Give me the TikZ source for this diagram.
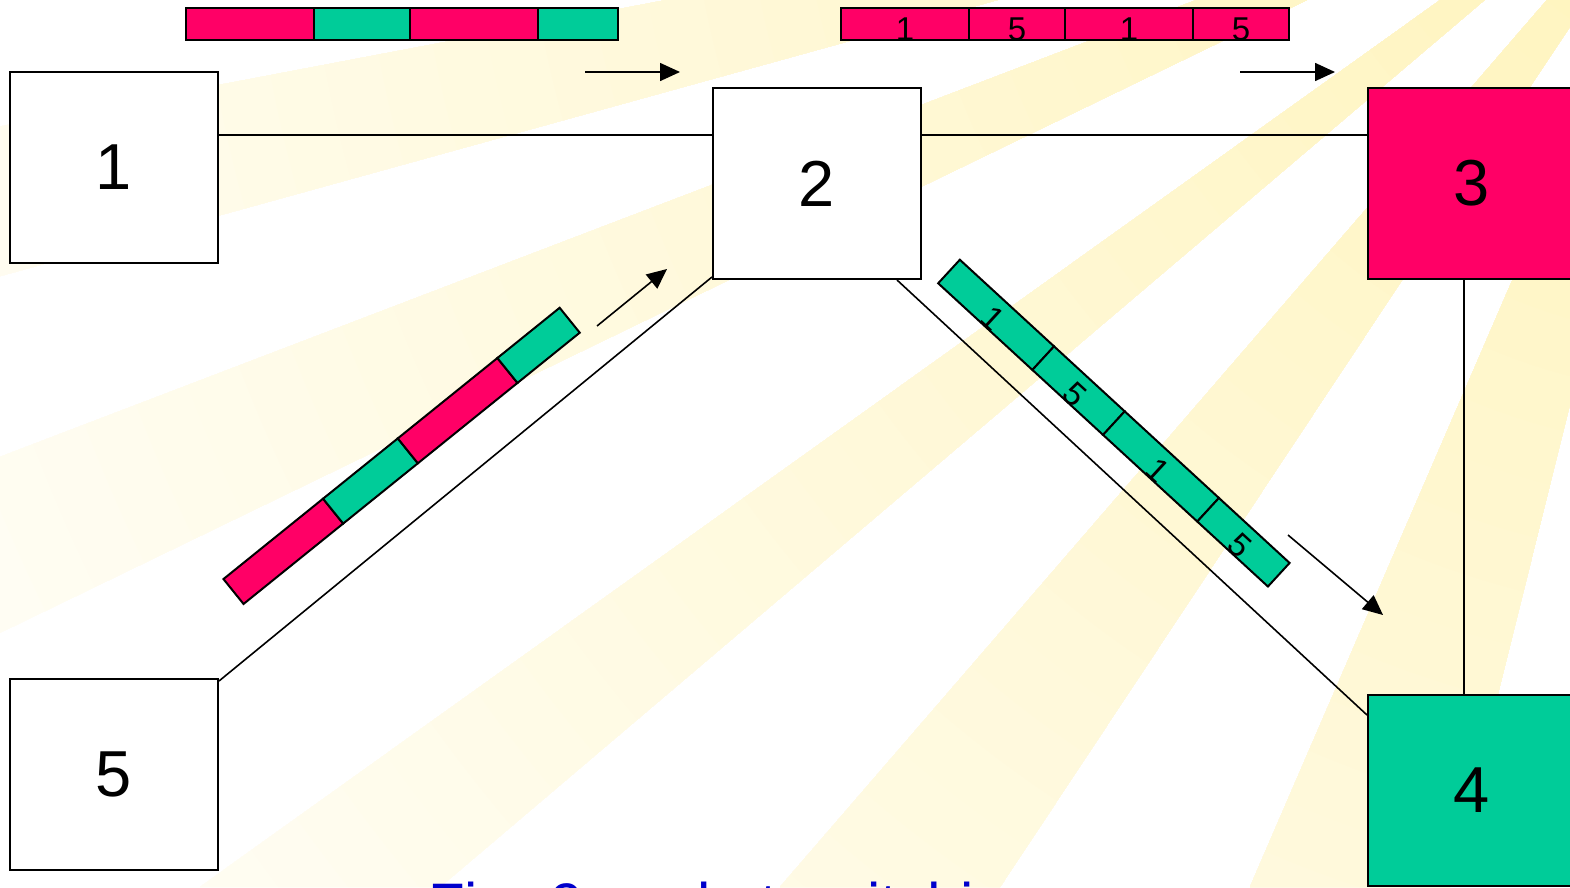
\documentclass[tikz,border=0pt]{standalone}
\usepackage{fontspec}
\setmainfont{Liberation Sans}
\usetikzlibrary{arrows.meta,calc}
\definecolor{pkred}{HTML}{FF0066}
\definecolor{pkgreen}{HTML}{00CC99}
\definecolor{ray}{HTML}{FFEE99}
\definecolor{capblue}{HTML}{0000CC}
\begin{document}
\begin{tikzpicture}[x=1pt,y=-1pt,
  box/.style={draw=black,line width=2pt,minimum width=208pt,minimum height=191pt,inner sep=0pt,font=\fontsize{65}{70}\selectfont},
  link/.style={line width=1.6pt},
  flow/.style={line width=1.6pt,-{Triangle[length=20pt,width=18pt]}},
  seg/.style={draw=black,line width=2pt,line join=miter},
  slotlabel/.style={font=\fontsize{33}{36}\selectfont,inner sep=0pt}]

\clip (0,0) rectangle (1570,887);
\fill[white] (0,0) rectangle (1570,887);

% background rays (stepwise radial fade from the top right)
\coordinate (O) at (1720,-200);
\begin{scope}
  \clip (O) -- (-50,136) -- (-50,290) -- cycle
        (O) -- (-50,476) -- (-50,657) -- cycle
        (O) -- (200,887) -- (440,887) -- cycle
        (O) -- (780,887) -- (1000,887) -- cycle
        (O) -- (1250,887) -- (1450,887) -- cycle;
  \foreach \k [evaluate=\k as \r using 2300-55*\k,
               evaluate=\k as \p using 1.6739*\k] in {0,...,41}
    \fill[ray!\p!white] (O) circle (\r);
\end{scope}

% nodes
\node[box,fill=white]  (n1) at (114,167.5) {1};
\node[box,fill=white]  (n2) at (817,183.5) {2};
\node[box,fill=pkred]  (n3) at (1472,183.5) {3};
\node[box,fill=pkgreen](n4) at (1472,790.5) {4};
\node[box,fill=white]  (n5) at (114,774.5) {5};

% links
\draw[link] ([yshift=32.5pt]n1.east) -- ([yshift=32.5pt]n1.east -| n2.west);
\draw[link] ([yshift=48.5pt]n2.east) -- ([yshift=48.5pt]n2.east -| n3.west);
\draw[link] ([yshift=-3pt]n5.north east) -- ([yshift=3pt]n2.south west);
\draw[link] ([xshift=-25pt]n2.south east) -- ([yshift=-21pt]n4.north west);
\draw[link] ([xshift=-8pt]n3.south) -- ([xshift=-8pt]n3.south |- n4.north);

% top-left packet train
\draw[seg,fill=pkred]   (186,8) rectangle (314,40);
\draw[seg,fill=pkgreen] (314,8) rectangle (410,40);
\draw[seg,fill=pkred]   (410,8) rectangle (538,40);
\draw[seg,fill=pkgreen] (538,8) rectangle (618,40);

% top-right packet train
\draw[seg,fill=pkred] (841,8) rectangle (969,40);
\draw[seg,fill=pkred] (969,8) rectangle (1065,40);
\draw[seg,fill=pkred] (1065,8) rectangle (1193,40);
\draw[seg,fill=pkred] (1193,8) rectangle (1289,40);
\node[slotlabel] (t1) at (905,29) {1};
\node[slotlabel] (t2) at (1017,29) {5};
\node[slotlabel] (t3) at (1129,29) {1};
\node[slotlabel] (t4) at (1241,29) {5};

% diagonal train 5 -> 2
\begin{scope}[shift={(233.5,591.5)},rotate=38.9]
  \draw[seg,fill=pkred]   (0,-16) rectangle (128,16);
  \draw[seg,fill=pkgreen] (128,-16) rectangle (224,16);
  \draw[seg,fill=pkred]   (224,-16) rectangle (352,16);
  \draw[seg,fill=pkgreen] (352,-16) rectangle (432,16);
\end{scope}

% diagonal train 2 -> 4
\begin{scope}[shift={(949,271.5)},rotate=-42.6]
  \draw[seg,fill=pkgreen] (0,-16) rectangle (128,16);
  \draw[seg,fill=pkgreen] (128,-16) rectangle (224,16);
  \draw[seg,fill=pkgreen] (224,-16) rectangle (352,16);
  \draw[seg,fill=pkgreen] (352,-16) rectangle (448,16);
  \node[slotlabel,transform shape] (d1) at (64,5) {1};
  \node[slotlabel,transform shape] (d2) at (176,5) {5};
  \node[slotlabel,transform shape] (d3) at (288,5) {1};
  \node[slotlabel,transform shape] (d4) at (400,5) {5};
\end{scope}

% direction arrows
\coordinate (a1s) at (585,72);   \coordinate (a1e) at (680,72);
\coordinate (a2s) at (1240,72);  \coordinate (a2e) at (1335,72);
\coordinate (a3s) at (597,326);  \coordinate (a3e) at (667,269);
\coordinate (a4s) at (1288,535); \coordinate (a4e) at (1383,615);
\draw[flow] (a1s) -- (a1e);
\draw[flow] (a2s) -- (a2e);
\draw[flow] (a3s) -- (a3e);
\draw[flow] (a4s) -- (a4e);

% caption (cut by the lower edge)
\node[anchor=base west,inner sep=0pt,text=capblue,font=\fontsize{60}{60}\selectfont] (cap) at (428,925) {Fig. 9 packet switching};
\end{tikzpicture}
\end{document}
